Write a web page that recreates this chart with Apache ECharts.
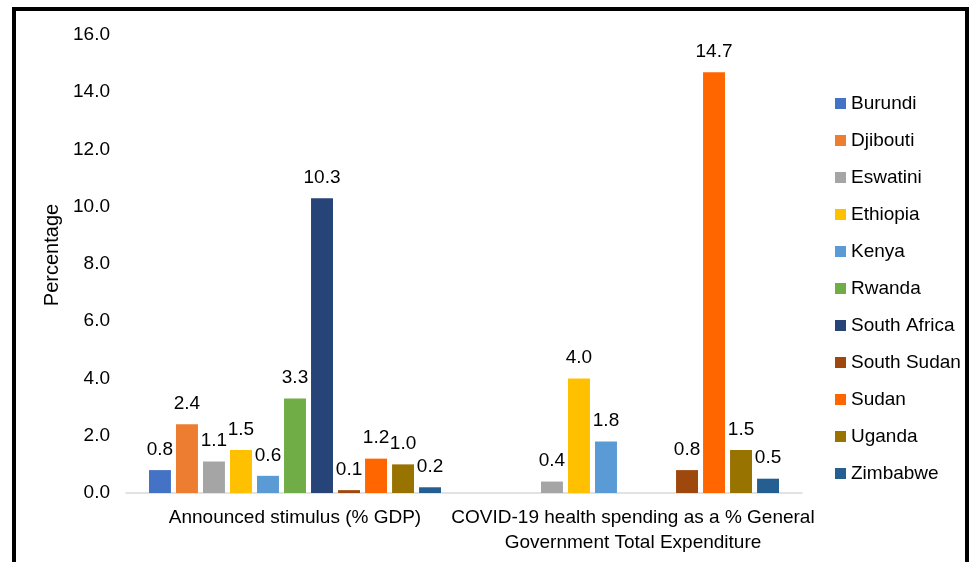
<!DOCTYPE html>
<html>
<head>
<meta charset="utf-8">
<script src="https://cdn.jsdelivr.net/npm/echarts@6/dist/echarts.min.js"></script>
<style>html,body{margin:0;padding:0;background:#fff}#c{width:972px;height:562px}</style>
</head>
<body>
<div id="c"></div>
<script>
const categories = ['Announced stimulus (% GDP)', 'COVID-19 health spending as a % General\nGovernment Total Expenditure'];
const countries = ['Burundi','Djibouti','Eswatini','Ethiopia','Kenya','Rwanda','South Africa','South Sudan','Sudan','Uganda','Zimbabwe'];
const colors = ['#4472C4','#ED7D31','#A5A5A5','#FFC000','#5B9BD5','#70AD47','#264478','#9E480E','#FF6600','#997300','#255E91'];
const stimulus = [0.8, 2.4, 1.1, 1.5, 0.6, 3.3, 10.3, 0.1, 1.2, 1.0, 0.2];
const health   = [null, null, 0.4, 4.0, 1.8, null, null, 0.8, 14.7, 1.5, 0.5];
const yTicks = [0, 2, 4, 6, 8, 10, 12, 14, 16];

const font = 'Liberation Sans, Arial, Helvetica, sans-serif';
const chart = echarts.init(document.getElementById('c'));
const series = countries.map((name, i) => ({
  name,
  type: 'bar',
  data: [stimulus[i], health[i]],
  itemStyle: { color: colors[i] },
  barGap: '23%',
  barCategoryGap: '13.6%',
  label: {
    show: true, position: 'top', distance: 11,
    fontFamily: font, fontSize: 19, color: '#000',
    formatter: p => (p.value == null ? '' : Number(p.value).toFixed(1))
  }
}));
chart.setOption({
  animation: false,
  grid: { left: 126, right: 170, top: 35, bottom: 69 },
  legend: {
    orient: 'vertical', left: 830, top: 89,
    itemWidth: 11, itemHeight: 11, itemGap: 18,
    icon: 'rect',
    textStyle: { fontFamily: font, fontSize: 19, color: '#000', lineHeight: 19 },
    data: countries
  },
  xAxis: {
    type: 'category', data: categories,
    axisLine: { lineStyle: { color: '#d9d9d9', width: 1.5 } },
    axisTick: { show: false },
    axisLabel: { fontFamily: font, fontSize: 19, color: '#000', lineHeight: 25, margin: 12, interval: 0 }
  },
  yAxis: {
    type: 'value', min: 0, max: 16, interval: 2,
    name: 'Percentage', nameLocation: 'middle', nameGap: 59, nameRotate: 90,
    nameTextStyle: { fontFamily: font, fontSize: 20, color: '#000', padding: [0, 0, 0, 18] },
    axisLine: { show: false }, axisTick: { show: false },
    splitLine: { show: false },
    axisLabel: { fontFamily: font, fontSize: 19, color: '#000', margin: 16,
      formatter: v => yTicks.includes(v) ? v.toFixed(1) : '' }
  },
  graphic: [{
    type: 'rect', shape: { x: 14, y: 9, width: 953, height: 600 },
    style: { fill: 'none', stroke: '#000', lineWidth: 4 }, silent: true
  }],
  series
});
</script>
</body>
</html>
